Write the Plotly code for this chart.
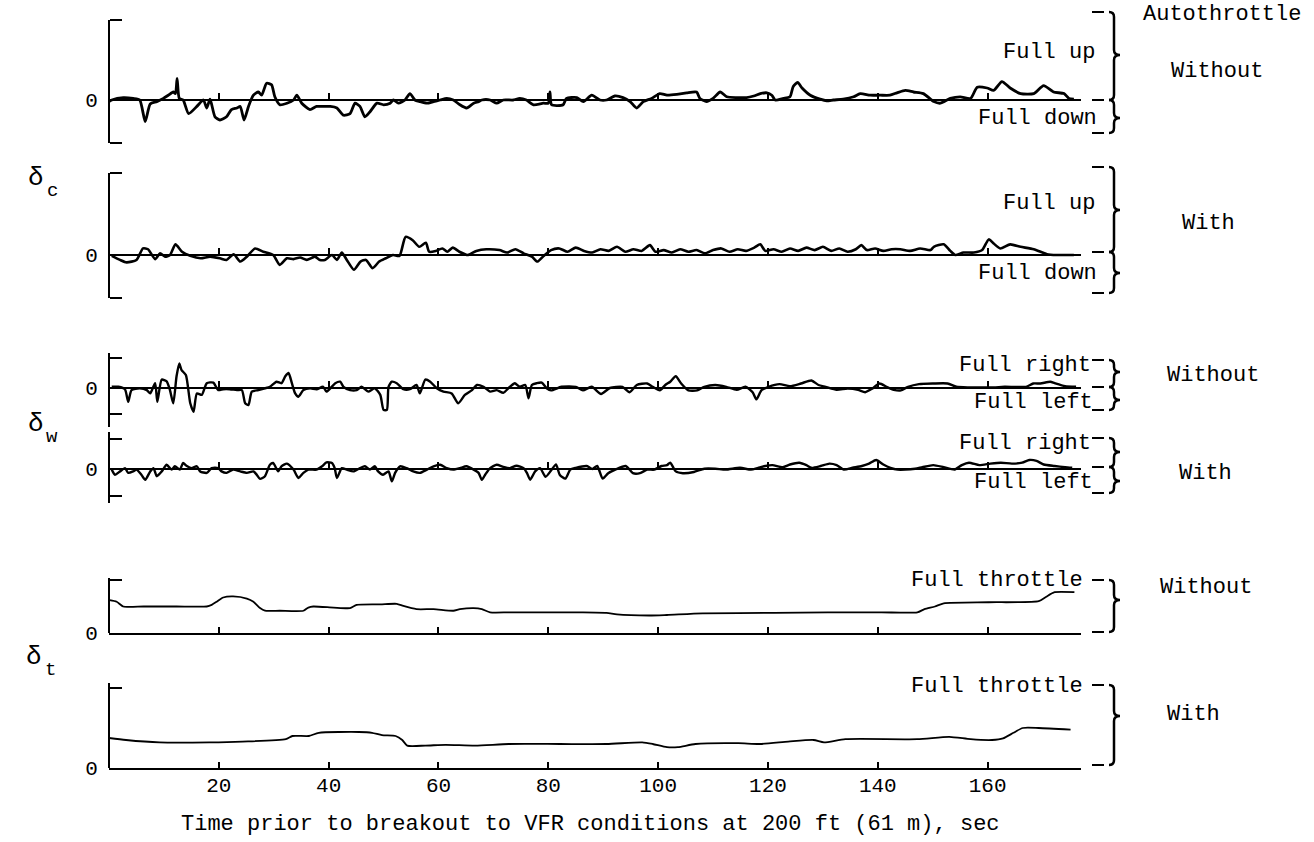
import plotly.graph_objects as go

W, H = 1314, 842
FONT = "Liberation Mono, Courier New, monospace"

# ---------------- data (time s, fraction of full deflection) ----------------
c_without = [(0,-0.02),(0.5,0.0),(2.6,0.03),(4.4,0.02),(5.6,0.0),(6.6,-0.27),(7.5,-0.05),(8.7,-0.02),(9.9,0.02),(10.8,0.06),(11.7,0.1),(12.1,0.08),(12.4,0.27),(12.8,0.02),(13.5,0.0),(14.5,-0.17),(16.0,-0.08),(17.2,0.0),(17.8,-0.1),(18.4,0.01),(19.3,-0.21),(20.2,-0.25),(21.4,-0.21),(22.3,-0.12),(23.3,-0.1),(23.9,-0.08),(24.6,-0.25),(25.4,-0.08),(26.3,0.06),(27.2,0.1),(27.8,0.06),(28.7,0.21),(29.6,0.19),(30.2,0.04),(31.1,-0.06),(32.4,-0.04),(33.6,0.0),(34.2,0.06),(35.1,-0.04),(36.6,-0.12),(37.8,-0.08),(39.0,-0.08),(40.3,-0.08),(41.5,-0.1),(42.7,-0.19),(43.9,-0.17),(44.8,-0.04),(45.7,-0.08),(46.6,-0.21),(47.5,-0.15),(48.8,-0.04),(50.0,-0.06),(51.2,-0.04),(51.8,0.0),(52.7,-0.04),(53.9,0.0),(54.8,0.08),(55.7,0.0),(56.6,-0.02),(57.9,-0.04),(59.1,-0.02),(60.3,0.0),(61.5,0.02),(62.7,0.0),(63.9,-0.06),(65.1,-0.1),(66.4,-0.04),(67.3,-0.02),(67.9,0.0),(69.4,0.0),(70.6,-0.04),(71.8,0.0),(73.6,0.0),(74.8,0.02),(76.0,0.0),(77.3,-0.06),(79.1,-0.04),(80.0,-0.04),(80.3,0.1),(80.6,-0.06),(82.7,-0.06),(83.3,0.02),(85.2,0.03),(86.4,-0.02),(87.9,0.06),(89.4,0.0),(90.6,0.0),(92.1,0.05),(93.6,0.03),(94.9,-0.02),(96.1,-0.1),(97.3,-0.02),(98.8,0.02),(100.3,0.08),(101.6,0.06),(103.4,0.07),(105.2,0.09),(107.0,0.1),(107.6,0.02),(108.8,-0.02),(110.0,0.02),(111.3,0.1),(112.5,0.04),(114.3,0.03),(116.1,0.03),(117.4,0.05),(118.6,0.08),(119.8,0.09),(120.7,0.06),(121.3,0.0),(122.8,0.02),(124.0,0.04),(124.6,0.17),(125.4,0.22),(126.2,0.15),(127.7,0.06),(129.5,0.01),(130.7,-0.01),(131.9,0.0),(133.7,0.01),(135.6,0.04),(136.8,0.08),(138.6,0.06),(140.4,0.06),(142.2,0.06),(143.5,0.09),(145.0,0.12),(146.5,0.1),(148.3,0.08),(150.2,-0.02),(151.4,-0.04),(153.2,0.02),(155.0,0.04),(156.9,0.02),(158.1,0.16),(159.9,0.15),(161.1,0.12),(162.6,0.23),(164.1,0.15),(166.0,0.08),(168.4,0.08),(170.2,0.18),(172.0,0.1),(173.9,0.08),(174.8,0.02),(175.7,0.01)]

c_with = [(0.5,-0.01),(2.0,-0.06),(3.2,-0.09),(5.0,-0.06),(6.2,0.08),(7.1,0.07),(8.4,-0.05),(9.3,0.02),(10.2,-0.02),(11.1,0.0),(12.1,0.13),(13.3,0.04),(14.8,-0.01),(16.7,-0.04),(18.4,-0.02),(20.2,-0.04),(21.4,-0.06),(22.7,0.01),(23.9,-0.08),(25.1,-0.02),(26.6,0.08),(28.1,0.04),(29.9,0.0),(31.1,-0.12),(32.4,-0.04),(33.6,-0.05),(34.8,-0.03),(36.0,-0.06),(37.5,-0.02),(38.4,-0.06),(39.3,-0.06),(40.6,0.0),(41.5,-0.06),(42.4,0.03),(43.3,-0.06),(44.6,-0.18),(45.8,-0.08),(46.8,-0.06),(48.0,-0.16),(49.2,-0.08),(50.4,-0.04),(51.7,0.0),(52.9,-0.01),(54.0,0.22),(55.3,0.18),(56.5,0.1),(57.7,0.15),(58.3,0.04),(59.5,0.05),(60.7,0.08),(61.6,0.04),(62.6,0.09),(63.8,0.04),(65.3,0.0),(66.9,0.05),(68.7,0.07),(71.1,0.06),(72.5,0.03),(74.0,0.07),(75.5,0.02),(77.0,-0.02),(78.0,-0.08),(79.0,-0.02),(80.5,0.06),(82.0,0.08),(83.5,0.04),(85.0,0.09),(86.5,0.05),(88.0,0.03),(89.5,0.07),(91.0,0.05),(92.5,0.1),(94.0,0.04),(95.5,0.07),(97.0,0.05),(98.5,0.12),(99.5,0.04),(101.0,0.06),(102.5,0.03),(104.0,0.07),(105.5,0.04),(107.0,0.06),(108.5,0.02),(110.0,0.06),(111.5,0.08),(113.0,0.04),(114.5,0.07),(116.0,0.05),(117.5,0.09),(118.6,0.13),(119.5,0.05),(121.0,0.07),(122.5,0.04),(124.0,0.08),(125.5,0.05),(127.0,0.09),(128.5,0.06),(130.0,0.1),(131.5,0.05),(133.0,0.08),(134.5,0.04),(136.0,0.07),(137.0,0.12),(138.0,0.06),(139.5,0.08),(141.0,0.05),(142.5,0.07),(144.1,0.07),(145.9,0.05),(147.7,0.08),(149.6,0.06),(150.2,0.1),(152.0,0.13),(153.2,0.05),(154.1,0.0),(155.6,0.03),(157.5,0.03),(159.0,0.06),(160.2,0.19),(161.1,0.14),(162.3,0.08),(164.1,0.13),(166.0,0.1),(168.4,0.07),(170.8,0.01),(172.6,0.0),(175.7,0.0)]

w_without = [(0.5,0.04),(1.7,0.04),(2.9,-0.04),(3.5,-0.46),(4.1,-0.07),(5.6,-0.01),(6.9,-0.07),(7.5,-0.18),(8.4,0.16),(8.8,-0.46),(9.6,0.28),(10.5,0.22),(11.1,-0.07),(11.7,-0.51),(12.3,0.39),(12.8,0.82),(13.2,0.6),(14.0,0.43),(14.8,-0.51),(15.4,-0.79),(16.0,-0.18),(16.9,-0.23),(17.8,0.16),(19.0,0.18),(19.9,-0.07),(20.8,-0.04),(22.0,-0.04),(23.3,-0.07),(24.2,-0.07),(24.8,-0.51),(25.4,-0.57),(26.0,-0.12),(27.2,-0.07),(28.4,-0.01),(29.3,0.04),(30.5,0.21),(31.4,0.16),(32.1,0.39),(32.7,0.5),(33.3,0.16),(33.9,-0.18),(34.5,-0.29),(35.4,-0.07),(36.6,-0.01),(37.8,-0.04),(39.0,0.04),(39.6,-0.12),(40.3,-0.01),(41.2,0.16),(42.1,0.21),(42.7,0.04),(43.9,-0.07),(45.1,-0.07),(46.0,0.04),(47.2,-0.12),(48.4,-0.01),(49.4,-0.23),(50.0,-0.73),(50.6,-0.73),(50.9,0.04),(51.5,0.21),(52.4,0.16),(53.6,-0.04),(54.8,-0.04),(56.0,0.1),(56.6,-0.18),(57.6,0.28),(58.5,0.21),(59.7,-0.01),(60.9,-0.12),(62.4,-0.18),(63.6,-0.51),(64.8,-0.23),(66.1,-0.07),(67.0,0.1),(68.2,0.04),(69.4,-0.12),(70.6,-0.07),(71.8,-0.16),(73.0,0.04),(73.9,0.16),(74.8,0.04),(75.8,0.1),(76.4,-0.34),(77.0,0.1),(77.9,0.16),(78.8,0.18),(79.7,-0.01),(80.5,-0.08),(82.4,0.04),(85.0,0.04),(86.3,-0.08),(87.9,0.04),(89.6,-0.2),(91.2,0.0),(93.5,0.04),(94.8,-0.14),(96.1,0.1),(98.0,0.15),(99.0,0.04),(100.3,-0.08),(101.3,0.1),(102.2,0.21),(103.2,0.39),(104.2,0.15),(105.5,-0.08),(107.1,-0.08),(108.4,0.04),(110.4,0.1),(112.4,0.04),(114.3,-0.06),(115.9,0.04),(117.2,-0.14),(117.9,-0.38),(118.8,-0.08),(120.1,0.04),(122.1,0.13),(124.0,0.06),(126.0,0.15),(127.9,0.25),(129.2,0.1),(130.5,0.04),(132.5,-0.06),(134.5,-0.02),(136.4,-0.06),(137.7,-0.14),(139.0,-0.02),(140.3,0.15),(141.6,0.04),(142.9,-0.06),(144.2,-0.08),(145.5,0.04),(147.5,0.13),(150.1,0.15),(152.7,0.15),(154.3,0.04),(156.6,0.02),(159.2,0.02),(161.1,0.02),(163.1,0.04),(167.0,0.04),(168.3,0.15),(169.6,0.15),(171.4,0.21),(172.2,0.16),(174.1,0.06),(176.1,0.04)]

w_with = [(0.5,-0.02),(1.1,-0.19),(2.0,-0.08),(2.9,0.03),(3.5,-0.13),(4.4,-0.08),(5.0,-0.02),(5.9,-0.19),(6.6,-0.36),(7.5,-0.08),(8.1,0.03),(8.7,-0.24),(9.6,-0.08),(10.5,0.14),(11.4,-0.02),(12.0,0.09),(12.9,-0.02),(13.5,0.2),(14.1,0.11),(15.1,0.03),(16.0,0.09),(16.6,-0.08),(17.8,-0.13),(18.7,0.03),(19.9,0.03),(20.5,-0.08),(21.4,-0.13),(22.6,-0.02),(23.9,-0.08),(25.1,-0.13),(26.3,-0.08),(26.9,-0.19),(27.5,-0.33),(28.4,-0.24),(29.3,0.14),(29.9,0.2),(30.8,-0.08),(31.4,0.09),(32.4,0.18),(33.6,-0.02),(34.5,-0.3),(35.4,-0.13),(36.3,-0.02),(37.8,-0.02),(38.8,0.09),(39.6,0.22),(40.6,0.2),(41.1,0.03),(41.5,-0.3),(42.4,0.03),(43.3,-0.02),(44.5,-0.08),(45.7,0.03),(46.6,0.09),(47.5,-0.02),(48.4,0.09),(49.0,-0.08),(49.9,-0.19),(50.9,-0.08),(51.5,-0.41),(52.1,-0.13),(53.0,0.09),(54.2,0.03),(55.4,-0.08),(56.6,-0.13),(57.9,-0.02),(59.1,0.09),(60.3,0.14),(61.5,0.03),(62.7,-0.02),(63.9,0.03),(65.1,0.09),(66.4,-0.02),(67.3,-0.13),(67.9,-0.36),(68.5,-0.19),(69.4,0.03),(70.6,0.14),(71.8,0.07),(73.0,0.03),(74.2,0.11),(75.5,0.03),(76.1,-0.13),(76.7,-0.36),(77.6,-0.08),(78.5,0.03),(79.5,-0.26),(80.5,-0.05),(81.4,0.15),(82.1,-0.2),(83.1,-0.32),(84.0,-0.02),(85.0,0.04),(87.0,0.1),(88.0,0.0),(88.9,0.1),(89.9,-0.32),(90.9,-0.14),(92.2,-0.02),(94.1,0.1),(95.4,-0.14),(96.7,-0.14),(98.0,-0.02),(99.3,-0.02),(100.6,0.1),(101.6,0.13),(102.2,0.21),(103.2,-0.08),(104.5,-0.14),(106.5,-0.1),(108.4,0.01),(110.4,0.01),(112.3,-0.02),(114.9,0.04),(116.9,-0.02),(118.2,0.04),(119.5,0.1),(120.8,0.13),(122.7,0.06),(124.0,0.15),(125.7,0.21),(127.0,0.13),(127.9,0.04),(129.6,0.1),(131.2,0.18),(132.5,0.13),(133.8,-0.02),(135.4,0.04),(137.1,0.1),(138.4,0.18),(139.7,0.3),(141.0,0.15),(142.3,0.04),(143.6,-0.02),(145.0,-0.02),(146.8,0.01),(148.1,0.06),(150.1,0.13),(152.0,0.06),(154.0,-0.02),(155.3,0.13),(156.6,0.21),(158.5,0.13),(160.5,0.18),(162.4,0.21),(164.4,0.18),(166.3,0.21),(167.6,0.3),(168.9,0.27),(170.2,0.15),(172.2,0.1),(174.1,0.06),(175.4,0.04)]

t_without = [(0.1,0.62),(1.4,0.59),(2.6,0.5),(6.3,0.5),(12.3,0.5),(17.8,0.5),(18.7,0.53),(19.6,0.59),(20.8,0.67),(22.6,0.69),(25.1,0.65),(26.3,0.59),(27.5,0.47),(28.4,0.42),(31.1,0.42),(35.4,0.42),(36.3,0.48),(37.2,0.5),(40.9,0.48),(43.9,0.47),(45.1,0.53),(49.4,0.54),(52.4,0.55),(53.6,0.51),(56.0,0.45),(59.1,0.45),(62.7,0.42),(63.9,0.45),(66.4,0.47),(67.9,0.45),(69.4,0.39),(73.0,0.39),(85.8,0.39),(90.6,0.38),(92.5,0.35),(98.4,0.33),(101.6,0.34),(108.1,0.37),(121.1,0.38),(130.9,0.39),(140.7,0.39),(147.2,0.39),(148.5,0.45),(150.4,0.5),(152.0,0.56),(160.2,0.58),(169.3,0.6),(170.6,0.68),(172.2,0.77),(175.8,0.77)]

t_with = [(0,0.375),(3.1,0.35),(9.2,0.32),(18.3,0.32),(24.3,0.33),(32.2,0.36),(33.4,0.4),(36.4,0.4),(38.2,0.44),(45.5,0.45),(47.9,0.44),(49.7,0.41),(52.2,0.4),(53.4,0.35),(54.3,0.28),(57.6,0.28),(61.3,0.29),(66.7,0.28),(72.8,0.3),(82.1,0.3),(90.6,0.3),(97.1,0.32),(99.0,0.3),(101.6,0.26),(103.6,0.26),(106.8,0.3),(114.6,0.31),(118.5,0.3),(123.7,0.33),(128.3,0.35),(130.2,0.32),(134.1,0.36),(147.2,0.36),(153.0,0.39),(156.9,0.36),(160.8,0.35),(162.8,0.37),(164.7,0.44),(166.4,0.5),(169.3,0.5),(175.1,0.48)]

x_ticks = [20, 40, 60, 80, 100, 120, 140, 160]
x_tick_text = ["20", "40", "60", "80", "100", "120", "140", "160"]
T_END = 177

# ---------------- geometry helpers (pixels -> paper) ----------------
X0, X1 = 109, 1081


def fx(p):
    return p / W


def fy(p):
    return 1 - p / H


# data, dom_top, dom_bot, zero_px, top_tick_px, bottom_tick_px, line width
panels = [
    (c_without, 20, 143, 100, 20, 143, 2.8),
    (c_with, 173, 298, 255, 173, 298, 2.6),
    (w_without, 353, 427, 388, 358, 414, 2.4),
    (w_with, 432, 503, 469, 439, 496, 2.4),
    (t_without, 578, 633, 633, 580, None, 1.8),
    (t_with, 683, 768, 768, 688, None, 1.8),
]

fig = go.Figure()
layout = {}
for i, (series, dtop, dbot, zero, ttop, tbot, lw) in enumerate(panels, start=1):
    sfx = "" if i == 1 else str(i)
    unit = zero - ttop
    yr = [-(dbot - zero) / unit, (zero - dtop) / unit]
    minor_vals = [1.0]
    if tbot is not None:
        minor_vals.append(-(tbot - zero) / unit)
    xs = [p[0] for p in series]
    ys = [p[1] for p in series]
    fig.add_trace(go.Scatter(
        x=xs, y=ys, mode="lines", xaxis="x" + sfx, yaxis="y" + sfx,
        line=dict(color="black", width=lw, shape="spline", smoothing=0.6),
        hoverinfo="skip", showlegend=False))
    bottom_panel = i == len(panels)
    xa = dict(
        domain=[fx(X0), fx(X1)], range=[0, T_END], showgrid=False, zeroline=False,
        showline=True, linecolor="black", linewidth=2 if zero == dbot else 1.5,
        ticks="inside", ticklen=6, tickwidth=1.5, tickcolor="black",
        tickvals=x_ticks, ticktext=x_tick_text, showticklabels=bottom_panel,
        tickfont=dict(family=FONT, size=21, color="black"), ticklabelstandoff=-3,
        automargin=False,
    )
    if zero == dbot:
        xa["anchor"] = "y" + sfx
    else:
        xa["anchor"] = "free"
        xa["position"] = fy(zero)
    ya = dict(
        domain=[fy(dbot), fy(dtop)], range=yr, anchor="free", position=fx(X0),
        showgrid=False, zeroline=False, showline=True, linecolor="black", linewidth=2,
        ticks="", tickvals=[0.0], ticktext=["0"],
        tickfont=dict(family=FONT, size=21, color="black"), ticklabelstandoff=6,
        minor=dict(tickmode="array", tickvals=minor_vals, ticks="inside", ticklen=12,
                   tickwidth=2, tickcolor="black", showgrid=False),
        automargin=False,
    )
    layout["xaxis" + sfx] = xa
    layout["yaxis" + sfx] = ya

# ---------------- braces on the right ----------------
shapes = []


def brace(x, ytop, ybot, ytip, w=6, r=5):
    path = (f"M {fx(x - r)},{fy(ytop)} Q {fx(x)},{fy(ytop)} {fx(x)},{fy(ytop + r)} "
            f"L {fx(x)},{fy(ytip - r)} Q {fx(x)},{fy(ytip)} {fx(x + w)},{fy(ytip)} "
            f"Q {fx(x)},{fy(ytip)} {fx(x)},{fy(ytip + r)} "
            f"L {fx(x)},{fy(ybot - r)} Q {fx(x)},{fy(ybot)} {fx(x - r)},{fy(ybot)}")
    return dict(type="path", path=path, xref="paper", yref="paper",
                line=dict(color="black", width=2.5))


def dash(x, y, length=12):
    return dict(type="line", xref="paper", yref="paper", x0=fx(x - 10 - length), x1=fx(x - 10),
                y0=fy(y), y1=fy(y), line=dict(color="black", width=2))


BX = 1114
brace_specs = [
    (12, 100, 55), (100, 133, 118),
    (167, 252, 210), (252, 293, 273),
    (360, 387, 372), (387, 410, 400),
    (438, 467, 452), (467, 493, 481),
    (580, 632, 600),
    (685, 765, 716),
]
for ytop, ybot, ytip in brace_specs:
    shapes.append(brace(BX, ytop, ybot, ytip))
    shapes.append(dash(BX, ytop))
    shapes.append(dash(BX, ybot))

# ---------------- text ----------------
labels = [
    ("Autothrottle", 1222, 15, "center"),
    ("Full up", 1097, 53, "right"), ("Without", 1217, 72, "center"), ("Full down", 1099, 118, "right"),
    ("Full up", 1097, 203, "right"), ("With", 1208, 223, "center"), ("Full down", 1099, 273, "right"),
    ("Full right", 1093, 365, "right"), ("Without", 1213, 376, "center"), ("Full left", 1095, 403, "right"),
    ("Full right", 1093, 443, "right"), ("With", 1205, 473, "center"), ("Full left", 1095, 482, "right"),
    ("Full throttle", 1085, 580, "right"), ("Without", 1206, 587, "center"),
    ("Full throttle", 1085, 686, "right"), ("With", 1193, 714, "center"),
    ("Time prior to breakout to VFR conditions at 200 ft (61 m), sec", 590, 824, "center"),
]
annotations = [dict(text=t, x=fx(x), y=fy(y), xref="paper", yref="paper", xanchor=a,
                    yanchor="middle", showarrow=False,
                    font=dict(family=FONT, size=22, color="black")) for t, x, y, a in labels]
# delta symbols with their subscripts drawn as separate smaller text
for sym, sub, x, y in [("δ", "c", 36, 178), ("δ", "w", 36, 424), ("δ", "t", 34, 657)]:
    annotations.append(dict(text=sym, x=fx(x), y=fy(y), xref="paper", yref="paper",
                            xanchor="center", yanchor="middle", showarrow=False,
                            font=dict(family=FONT, size=26, color="black")))
    annotations.append(dict(text=sub, x=fx(x + 16), y=fy(y + 13), xref="paper", yref="paper",
                            xanchor="center", yanchor="middle", showarrow=False,
                            font=dict(family=FONT, size=19, color="black")))

fig.update_layout(
    width=W, height=H, autosize=False,
    margin=dict(l=0, r=0, t=0, b=0, pad=0, autoexpand=False),
    paper_bgcolor="white", plot_bgcolor="white", showlegend=False,
    shapes=shapes, annotations=annotations, **layout,
)

fig.write_html("out.html", config={"displayModeBar": False},
               post_script="document.body.style.margin='0px';document.body.style.overflow='hidden';")
